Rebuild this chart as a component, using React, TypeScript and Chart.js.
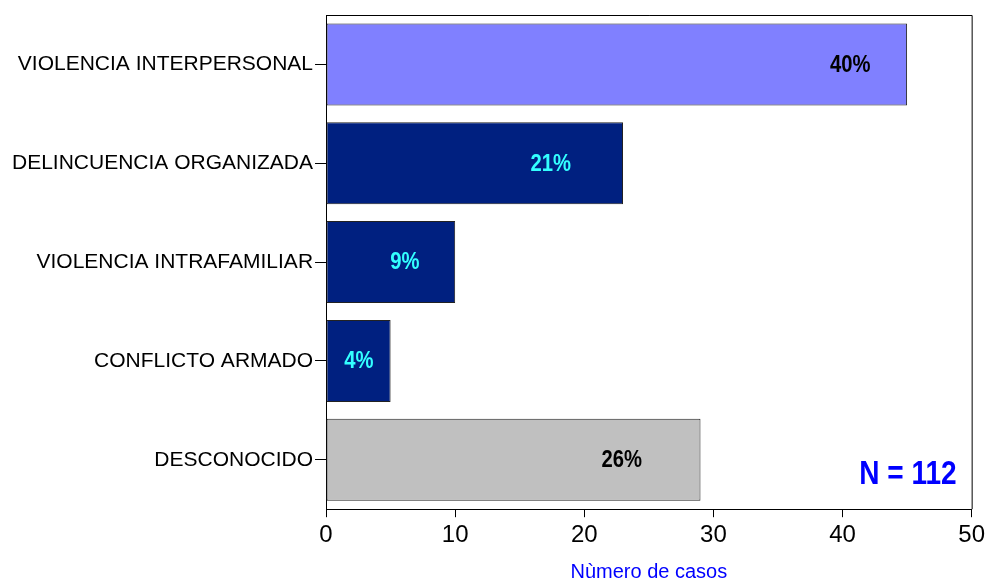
import React, { useEffect, useRef } from "react";
import { Chart, registerables } from "chart.js";

Chart.register(...registerables);

const categories = [
  "VIOLENCIA INTERPERSONAL",
  "DELINCUENCIA ORGANIZADA",
  "VIOLENCIA INTRAFAMILIAR",
  "CONFLICTO ARMADO",
  "DESCONOCIDO",
];
const cases = [45, 23, 10, 5, 29];
const percentLabels = ["40%", "21%", "9%", "4%", "26%"];
const labelAnchors = [40.6, 17.4, 6.1, 2.55, 22.9];
const barColors = ["#8080FF", "#002080", "#002080", "#002080", "#C0C0C0"];
const labelColors = ["#000000", "#33FFFF", "#33FFFF", "#33FFFF", "#000000"];
const xTicks = [0, 10, 20, 30, 40, 50];
const totalLabel = "N = 112";
const xTitle = "Nùmero de casos";

const SANS = "'Liberation Sans', Arial, sans-serif";

function narrowText(ctx: any, text: string, x: number, y: number, sx: number) {
  ctx.save();
  ctx.translate(x, y);
  ctx.scale(sx, 1);
  ctx.fillText(text, 0, 0);
  ctx.restore();
}

const overlayPlugin = {
  id: "overlay",
  afterDatasetsDraw(chart: any) {
    const { ctx, chartArea, scales } = chart;
    const x = scales.x;
    const y = scales.y;
    ctx.save();
    // frame (top and right)
    ctx.strokeStyle = "#000";
    ctx.lineWidth = 1;
    ctx.beginPath();
    ctx.moveTo(chartArea.left, chartArea.top + 0.5);
    ctx.lineTo(chartArea.right + 0.5, chartArea.top + 0.5);
    ctx.lineTo(chartArea.right + 0.5, chartArea.bottom);
    ctx.stroke();
    // bar labels
    ctx.font = `bold 23px ${SANS}`;
    ctx.textAlign = "center";
    ctx.textBaseline = "middle";
    percentLabels.forEach((t, i) => {
      ctx.fillStyle = labelColors[i];
      narrowText(ctx, t, x.getPixelForValue(labelAnchors[i]), y.getPixelForValue(i) + 1, 0.88);
    });
    // N label
    ctx.font = `bold 33px ${SANS}`;
    ctx.fillStyle = "#0000FF";
    ctx.textAlign = "right";
    ctx.textBaseline = "alphabetic";
    narrowText(ctx, totalLabel, chartArea.right - 15, chartArea.bottom - 25, 0.85);
    ctx.restore();
  },
};

export default function App() {
  const ref = useRef<HTMLCanvasElement | null>(null);
  useEffect(() => {
    if (!ref.current) return;
    const chart = new Chart(ref.current, {
      type: "bar",
      data: {
        labels: categories,
        datasets: [
          {
            data: cases,
            backgroundColor: barColors,
            borderColor: "#222222",
            borderWidth: 1,
            borderSkipped: false,
            barPercentage: 0.83,
            categoryPercentage: 1,
          },
        ],
      },
      options: {
        indexAxis: "y",
        animation: false,
        responsive: false,
        maintainAspectRatio: false,
        layout: { padding: { top: 15, right: 4, left: 10, bottom: 0 } },
        plugins: {
          legend: { display: false },
          tooltip: { enabled: false },
        },
        scales: {
          x: {
            min: 0,
            max: 50,
            afterBuildTicks: (axis: any) => {
              axis.ticks = xTicks.map((v) => ({ value: v }));
            },
            grid: {
              drawOnChartArea: false,
              drawTicks: true,
              tickLength: 8,
              color: "#000",
            },
            border: { display: true, color: "#000", width: 1 },
            ticks: {
              color: "#000",
              font: { family: SANS, size: 24 },
              padding: 4,
              maxRotation: 0,
            },
            title: {
              display: true,
              text: xTitle,
              color: "#0000FF",
              font: { family: SANS, size: 20 },
              padding: { top: 6, bottom: 0 },
            },
          },
          y: {
            grid: {
              offset: false,
              drawOnChartArea: false,
              drawTicks: true,
              tickLength: 11,
              color: "#000",
            },
            border: { display: true, color: "#000", width: 1 },
            ticks: {
              color: "#000",
              font: { family: SANS, size: 21 },
              padding: 2,
            },
          },
        },
      },
      plugins: [overlayPlugin],
    } as any);
    return () => chart.destroy();
  }, []);
  return (
    <div style={{ position: "fixed", left: 0, top: 0, width: 989, height: 584, background: "#fff" }}>
      <canvas ref={ref} width={989} height={584} style={{ display: "block" }} />
    </div>
  );
}
